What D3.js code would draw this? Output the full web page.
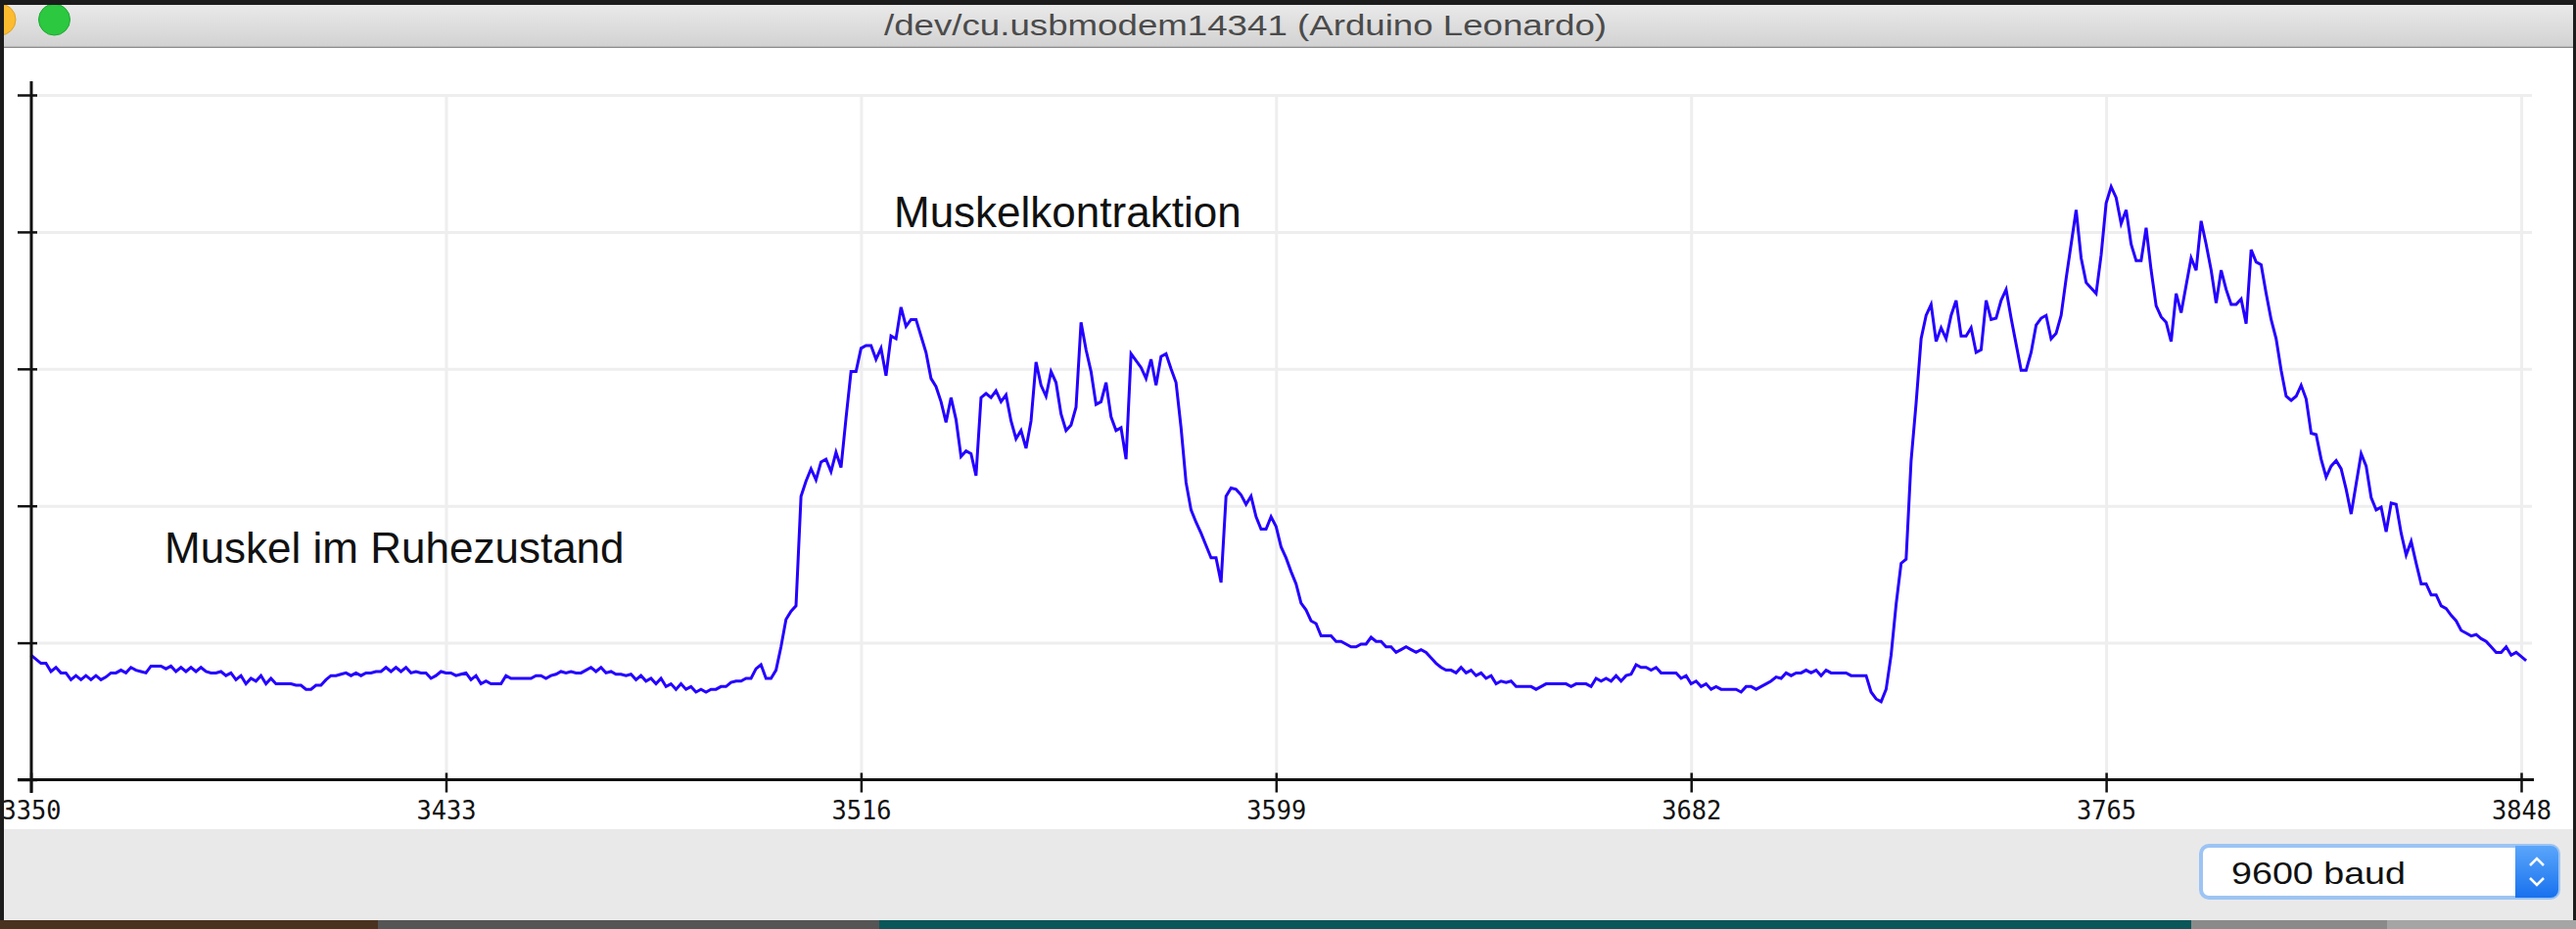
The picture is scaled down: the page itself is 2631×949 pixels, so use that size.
<!DOCTYPE html>
<html>
<head>
<meta charset="utf-8">
<script src="https://cdn.jsdelivr.net/npm/d3@7"></script>
<style>
 body { margin:0; background:#1c1c1c; overflow:hidden; }
</style>
</head>
<body>
<script>
// serial plotter readings, one per sample, starting at sample 3350
var firstSample = 3350;
var reading = [
 91, 88, 85, 85, 79, 82, 78, 78, 73, 76,
 73, 76, 73, 76, 73, 75, 78, 78, 80, 78,
 82, 80, 79, 78, 83, 83, 83, 81, 83, 79,
 82, 79, 82, 79, 82, 79, 78, 78, 79, 76,
 78, 73, 76, 70, 74, 72, 76, 70, 74, 70,
 70, 70, 70, 69, 69, 66, 66, 69, 69, 73,
 76, 76, 77, 78, 76, 78, 76, 78, 78, 79,
 79, 82, 79, 82, 79, 82, 78, 79, 78, 78,
 74, 76, 79, 78, 78, 76, 77, 78, 73, 76,
 70, 72, 70, 70, 70, 76, 74, 74, 74, 74,
 74, 76, 76, 74, 76, 77, 79, 78, 79, 78,
 78, 80, 82, 79, 82, 78, 79, 77, 77, 76,
 77, 73, 76, 72, 74, 70, 74, 68, 70, 66,
 70, 66, 68, 64, 66, 64, 66, 66, 68, 68,
 71, 72, 72, 74, 74, 81, 84, 74, 74, 80,
 97, 117, 123, 127, 207, 218, 227, 219, 232, 234,
 225, 239, 228, 264, 298, 298, 315, 317, 317, 307,
 315, 295, 324, 322, 345, 331, 336, 336, 324, 312,
 293, 287, 276, 261, 279, 263, 236, 240, 238, 222,
 279, 282, 279, 284, 276, 281, 262, 249, 255, 242,
 262, 305, 288, 280, 298, 290, 267, 255, 259, 272,
 334, 314, 298, 274, 276, 290, 265, 255, 257, 234,
 311, 306, 301, 293, 307, 288, 309, 311, 300, 290,
 257, 217, 197, 188, 180, 171, 162, 162, 144, 207,
 213, 212, 208, 201, 207, 192, 183, 183, 192, 185,
 170, 162, 152, 143, 129, 124, 116, 114, 105, 105,
 105, 101, 101, 99, 97, 97, 99, 99, 104, 101,
 101, 97, 97, 93, 95, 97, 95, 93, 95, 93,
 89, 85, 82, 80, 80, 78, 82, 78, 80, 76,
 78, 74, 76, 70, 72, 71, 72, 68, 68, 68,
 68, 66, 68, 70, 70, 70, 70, 70, 68, 70,
 70, 70, 68, 74, 72, 74, 72, 76, 72, 76,
 77, 84, 82, 82, 80, 82, 78, 78, 78, 78,
 74, 76, 70, 72, 68, 70, 66, 68, 66, 66,
 66, 66, 64, 68, 68, 66, 68, 70, 72, 75,
 74, 78, 76, 78, 78, 80, 78, 80, 76, 80,
 78, 78, 78, 78, 76, 76, 76, 76, 64, 59,
 57, 66, 91, 128, 158, 161, 233, 275, 322, 339,
 347, 320, 330, 322, 339, 350, 324, 324, 330, 312,
 314, 350, 336, 337, 350, 358, 337, 318, 299, 299,
 312, 332, 337, 339, 322, 326, 339, 366, 391, 416,
 381, 363, 359, 355, 383, 421, 433, 425, 406, 416,
 391, 379, 379, 403, 372, 346, 338, 334, 320, 355,
 341, 361, 381, 372, 408, 391, 372, 348, 372, 358,
 347, 347, 351, 333, 387, 378, 376, 355, 336, 322,
 299, 280, 277, 280, 288, 278, 253, 252, 234, 221,
 229, 233, 227, 212, 194, 216, 238, 229, 206, 197,
 199, 181, 202, 201, 180, 164, 174, 158, 143, 143,
 135, 135, 127, 125, 120, 116, 109, 107, 105, 106,
 103, 101, 97, 93, 93, 97, 91, 93, 90, 87
];
var xTickValues = [3350, 3433, 3516, 3599, 3682, 3765, 3848];
var yTickValues = [0, 100, 200, 300, 400, 500];
var windowTitle = "/dev/cu.usbmodem14341 (Arduino Leonardo)";
var noteTexts = ["Muskel im Ruhezustand", "Muskelkontraktion"];
var baudText = "9600 baud";

var W = 2631, H = 949;
var svg = d3.select("body").append("svg")
    .attr("width", W)
    .attr("height", H);

var defs = svg.append("defs");
var tg = defs.append("linearGradient").attr("id", "titleGrad")
    .attr("x1", 0).attr("y1", 0).attr("x2", 0).attr("y2", 1);
tg.append("stop").attr("offset", "0%").attr("stop-color", "#e9e9e9");
tg.append("stop").attr("offset", "100%").attr("stop-color", "#d2d2d2");
var bg = defs.append("linearGradient").attr("id", "stepGrad")
    .attr("x1", 0).attr("y1", 0).attr("x2", 0).attr("y2", 1);
bg.append("stop").attr("offset", "0%").attr("stop-color", "#5ba6fb");
bg.append("stop").attr("offset", "100%").attr("stop-color", "#1871ee");
defs.append("clipPath").attr("id", "winClip")
  .append("rect").attr("x", 4).attr("y", 5).attr("width", 2624).attr("height", 935);
defs.append("clipPath").attr("id", "boxClip")
  .append("rect").attr("x", 2248).attr("y", 864).attr("width", 365).attr("height", 53).attr("rx", 8);

// desktop strip below the window
svg.append("rect").attr("x", 0).attr("y", 0).attr("width", W).attr("height", H).attr("fill", "#1c1c1c");
svg.append("rect").attr("x", 0).attr("y", 940).attr("width", 386).attr("height", 9).attr("fill", "#4a3220");
svg.append("rect").attr("x", 386).attr("y", 940).attr("width", 512).attr("height", 9).attr("fill", "#555555");
svg.append("rect").attr("x", 898).attr("y", 940).attr("width", 1340).attr("height", 9).attr("fill", "#0b5658");
svg.append("rect").attr("x", 2238).attr("y", 940).attr("width", 200).attr("height", 9).attr("fill", "#8a8a8a");
svg.append("rect").attr("x", 2438).attr("y", 940).attr("width", 193).attr("height", 9).attr("fill", "#a5a5a5");

var win = svg.append("g").attr("clip-path", "url(#winClip)");

// title bar
win.append("rect").attr("x", 4).attr("y", 5).attr("width", 2624).attr("height", 43).attr("fill", "url(#titleGrad)");
win.append("line").attr("x1", 4).attr("x2", 2628).attr("y1", 48).attr("y2", 48)
    .attr("stroke", "#b3b3b3").attr("stroke-width", 1.5);
win.append("circle").attr("cx", 0).attr("cy", 20).attr("r", 16).attr("fill", "#fdbc2f").attr("stroke", "#dea125");
win.append("circle").attr("cx", 55.5).attr("cy", 20).attr("r", 16).attr("fill", "#2bc840").attr("stroke", "#1ea933");
win.append("text").attr("x", 1272).attr("y", 36)
    .attr("text-anchor", "middle")
    .attr("textLength", 738).attr("lengthAdjust", "spacingAndGlyphs")
    .style("font-family", "'Liberation Sans', Arial, sans-serif")
    .style("font-size", "30px")
    .attr("fill", "#4b4b4b")
    .text(windowTitle);

// plot area and bottom panel
win.append("rect").attr("x", 4).attr("y", 49).attr("width", 2624).attr("height", 798).attr("fill", "#ffffff");
win.append("rect").attr("x", 4).attr("y", 847).attr("width", 2624).attr("height", 93).attr("fill", "#e9e9e9");

var x = d3.scaleLinear().domain([3350, 3848]).range([31.6, 2575]);
var y = d3.scaleLinear().domain([0, 500]).range([796.5, 97]);

// grid
win.append("g").attr("transform", "translate(0,796.5)")
    .call(d3.axisBottom(x).tickValues(xTickValues).tickSize(-(y(0) - y(500))).tickFormat(""))
    .call(function(g) {
      g.select(".domain").remove();
      g.selectAll(".tick line").attr("stroke", "#eeeeee").attr("stroke-width", 3);
    });
win.append("g").attr("transform", "translate(32,0)")
    .call(d3.axisLeft(y).tickValues(yTickValues.slice(1)).tickSize(-(2586 - 32)).tickFormat(""))
    .call(function(g) {
      g.select(".domain").remove();
      g.selectAll(".tick line").attr("stroke", "#eeeeee").attr("stroke-width", 3);
    });

// the trace
var pts = reading.map(function(v, i) { return [firstSample + i, v]; });
var traceLine = d3.line()
    .x(function(d) { return x(d[0]); })
    .y(function(d) { return y(d[1]); });
win.append("path")
    .attr("d", traceLine(pts))
    .attr("fill", "none")
    .attr("stroke", "#2400ff")
    .attr("stroke-width", 3);

// axes
var xg = win.append("g").attr("transform", "translate(0,796.5)")
    .call(d3.axisBottom(x).tickValues(xTickValues).tickSizeInner(13).tickSizeOuter(0).tickFormat(d3.format("d")));
xg.select(".domain").remove();
xg.selectAll(".tick line").attr("y1", -7).attr("y2", 13).attr("stroke", "#111").attr("stroke-width", 2.5);
xg.selectAll(".tick text").attr("y", 40).attr("dy", null)
    .attr("textLength", 61).attr("lengthAdjust", "spacingAndGlyphs")
    .style("font-family", "'DejaVu Sans Mono', monospace")
    .style("font-size", "27px")
    .attr("fill", "#111");
win.append("line").attr("x1", 18).attr("x2", 2588).attr("y1", 796.5).attr("y2", 796.5)
    .attr("stroke", "#111").attr("stroke-width", 3);

var yg = win.append("g").attr("transform", "translate(32,0)")
    .call(d3.axisLeft(y).tickValues(yTickValues).tickSizeInner(14).tickSizeOuter(0).tickFormat(""));
yg.select(".domain").remove();
yg.selectAll(".tick line").attr("x1", 6).attr("stroke", "#111").attr("stroke-width", 2.5);
win.append("line").attr("x1", 32).attr("x2", 32).attr("y1", 83).attr("y2", 810)
    .attr("stroke", "#111").attr("stroke-width", 3);

// notes
win.append("text").attr("x", 168).attr("y", 575)
    .style("font-family", "'Liberation Sans', Arial, sans-serif").style("font-size", "44px")
    .attr("fill", "#111").text(noteTexts[0]);
win.append("text").attr("x", 913).attr("y", 231.5)
    .style("font-family", "'Liberation Sans', Arial, sans-serif").style("font-size", "44px")
    .attr("fill", "#111").text(noteTexts[1]);

// baud dropdown
win.append("rect").attr("x", 2248).attr("y", 864).attr("width", 365).attr("height", 53).attr("rx", 8)
    .attr("fill", "#ffffff").attr("stroke", "#9cc4f4").attr("stroke-width", 4);
win.append("rect").attr("x", 2569).attr("y", 864).attr("width", 44).attr("height", 53)
    .attr("fill", "url(#stepGrad)").attr("clip-path", "url(#boxClip)");
win.append("path").attr("d", "M2584,884 L2591,877 L2598,884")
    .attr("fill", "none").attr("stroke", "#fff").attr("stroke-width", 2.5);
win.append("path").attr("d", "M2584,897 L2591,904 L2598,897")
    .attr("fill", "none").attr("stroke", "#fff").attr("stroke-width", 2.5);
win.append("text").attr("x", 2279).attr("y", 903)
    .attr("textLength", 178).attr("lengthAdjust", "spacingAndGlyphs")
    .style("font-family", "'Liberation Sans', Arial, sans-serif").style("font-size", "32px")
    .attr("fill", "#111").text(baudText);
</script>
</body>
</html>
